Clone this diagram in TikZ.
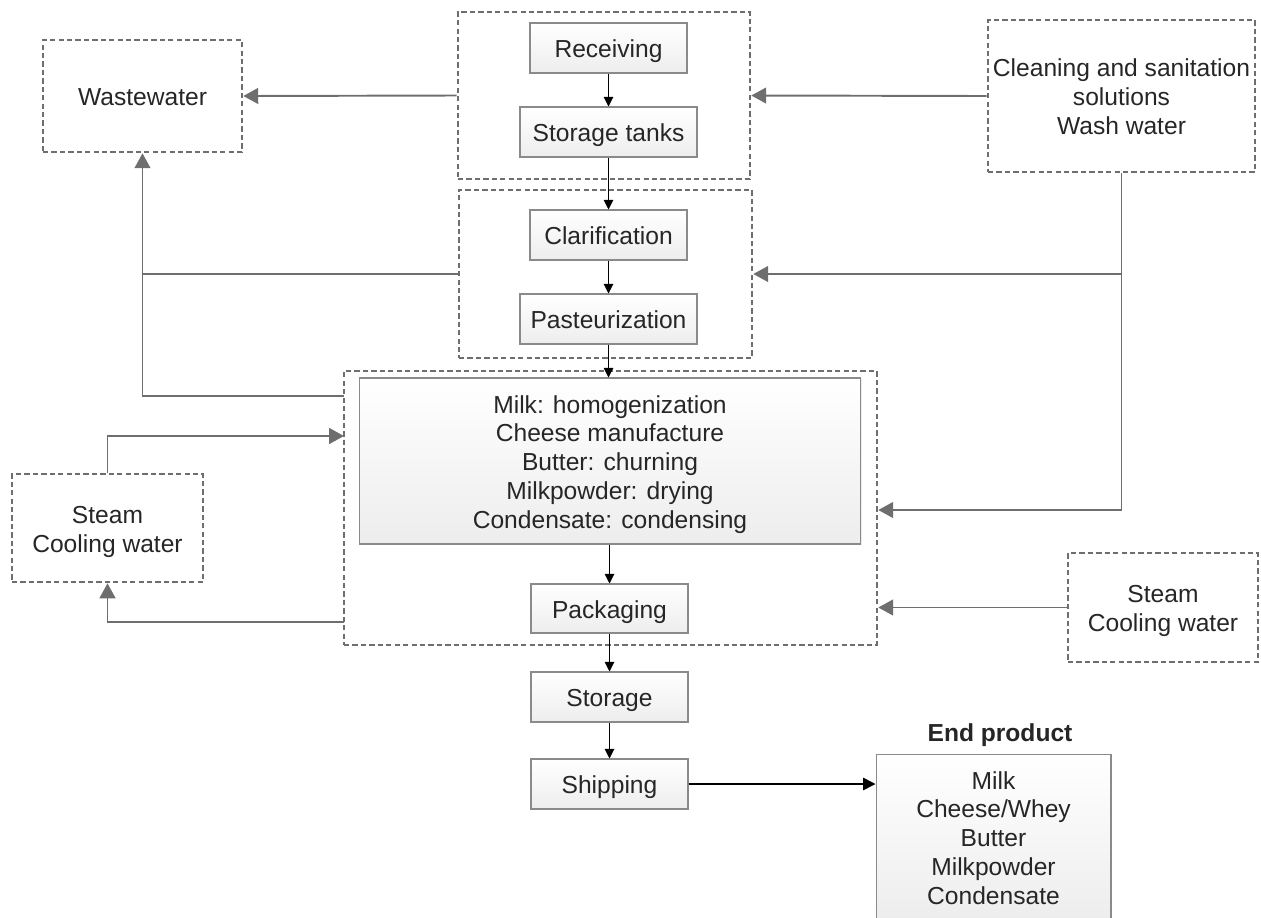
\documentclass[tikz,border=0pt]{standalone}
\usepackage{fontspec}
\setmainfont{Liberation Sans}
\usetikzlibrary{arrows.meta,shadows}
\definecolor{dgray}{HTML}{6E6E6E}
\definecolor{bgray}{HTML}{8A8A8A}
\definecolor{txt}{HTML}{262626}
\newcommand{\boxtext}[1]{\raisebox{-2.2pt}[\height][\depth]{\begin{tabular}{@{}c@{}}#1\end{tabular}}}
\tikzset{
  proc/.style={draw=bgray, line width=0.6pt, top color=white, bottom color=black!7,
    drop shadow={opacity=0.15, shadow xshift=0.8pt, shadow yshift=-0.8pt},
    inner sep=0pt, text=txt, font=\fontsize{14}{16.4}\selectfont},
  grp/.style={draw=dgray, line width=1.5pt, dash pattern=on 3pt off 1.8pt,
    inner sep=0pt, text=txt, font=\fontsize{14}{16.4}\selectfont},
  garrow/.style={draw=dgray, line width=1.1pt, -{Triangle[length=8.5pt,width=9pt]}},
  gline/.style={draw=dgray, line width=1.1pt},
  barrow/.style={draw=black, line width=0.6pt, -{Triangle[length=5.5pt,width=5.5pt]}},
}
\begin{document}
\begin{tikzpicture}[x=0.02cm,y=-0.02cm]
\useasboundingbox (0,0) rectangle (1261,917);
% dashed groups
\node[grp, minimum width=5.84cm, minimum height=3.34cm] (g1) at (604,95.5) {};
\node[grp, minimum width=5.86cm, minimum height=3.36cm] (g2) at (605.5,274) {};
\node[grp, minimum width=10.66cm, minimum height=5.48cm] (g3) at (610.5,508) {};
\node[grp, minimum width=3.98cm, minimum height=2.24cm] (ww) at (142.5,96) {\boxtext{Wastewater}};
\node[grp, minimum width=5.34cm, minimum height=3.04cm] (cl) at (1121.5,96) {\boxtext{Cleaning and sanitation\\solutions\\Wash water}};
\node[grp, minimum width=3.82cm, minimum height=2.16cm] (stL) at (107.5,528) {\boxtext{Steam\\Cooling water}};
\node[grp, minimum width=3.80cm, minimum height=2.18cm] (stR) at (1163,607.5) {\boxtext{Steam\\Cooling water}};
% process boxes
\node[proc, minimum width=3.14cm, minimum height=1cm] (rec) at (608.5,48) {\boxtext{Receiving}};
\node[proc, minimum width=3.54cm, minimum height=1cm] (stt) at (608.5,132) {\boxtext{Storage tanks}};
\node[proc, minimum width=3.14cm, minimum height=1cm] (cla) at (608.5,235) {\boxtext{Clarification}};
\node[proc, minimum width=3.54cm, minimum height=1cm] (pas) at (608.5,319) {\boxtext{Pasteurization}};
\node[proc, minimum width=10.04cm, minimum height=3.32cm] (big) at (610,461) {\boxtext{Milk: homogenization\\Cheese manufacture\\Butter: churning\\Milkpowder: drying\\Condensate: condensing}};
\node[proc, minimum width=3.14cm, minimum height=0.98cm] (pack) at (609.5,608.5) {\boxtext{Packaging}};
\node[proc, minimum width=3.14cm, minimum height=1cm] (sto) at (609.5,697) {\boxtext{Storage}};
\node[proc, minimum width=3.14cm, minimum height=1cm] (shi) at (609.5,784) {\boxtext{Shipping}};
\node[proc, minimum width=4.7cm, minimum height=3.32cm] (endp) at (993.5,837) {\boxtext{Milk\\Cheese/Whey\\Butter\\Milkpowder\\Condensate}};
\node[text=txt, inner sep=0pt, font=\fontsize{14}{16.4}\selectfont\bfseries] (endt) at (1000,732) {\boxtext{End product}};
% junction coordinates
\coordinate (j1) at (1121.5,274);
\coordinate (j2) at (1121.5,510);
\coordinate (h1) at (344,396);
\coordinate (h2) at (344,436);
\coordinate (h3) at (344,622);
% black flow arrows
\draw[barrow] (rec.south) -- (stt.north);
\draw[barrow] (stt.south) -- (cla.north);
\draw[barrow] (cla.south) -- (pas.north);
\draw[barrow] (pas.south) -- (big.north -| pas.south);
\draw[barrow] (big.south -| pack.north) -- (pack.north);
\draw[barrow] (pack.south) -- (sto.north);
\draw[barrow] (sto.south) -- (shi.north);
\draw[draw=black, line width=0.9pt, -{Triangle[length=7pt,width=7pt]}] (shi.east) -- (endp.west |- shi.east);
% gray connectors
\draw[garrow] (g1.west) -- (ww.east);
\draw[garrow] (cl.west) -- (g1.east);
\draw[garrow] (cl.south) -- (j2) -- (g3.east |- j2);
\draw[garrow] (j1) -- (g2.east);
\draw[gline] (g2.west) -- (ww.south |- g2.west);
\draw[garrow] (h1) -- (ww.south |- h1) -- (ww.south);
\draw[garrow] (stL.north) -- (stL.north |- h2) -- (h2);
\draw[garrow] (h3) -- (stL.south |- h3) -- (stL.south);
\draw[garrow] (stR.west) -- (g3.east |- stR.west);
\end{tikzpicture}
\end{document}
